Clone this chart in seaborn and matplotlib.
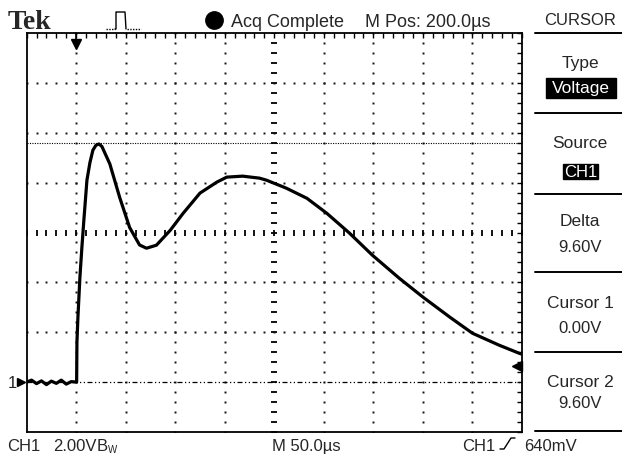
import numpy as np
import pandas as pd
import seaborn as sns
import matplotlib.pyplot as plt
from matplotlib.lines import Line2D
from matplotlib.patches import Rectangle

# trace (time in us, volts)
t_us = [0, 5, 10, 15, 20, 25, 30, 35, 40, 45, 50.5, 50.8, 51.8, 53.8, 55.8, 57.8,
        60.9, 63.9, 66.9, 70, 73, 76, 80, 84, 94, 104, 114, 121, 131, 145, 158,
        175, 192, 202, 218, 235, 242, 262, 283, 303, 326, 349, 376, 400, 427,
        450, 477, 497, 500]
volts = [0.0, 0.08, -0.06, 0.05, -0.1, 0.04, -0.05, 0.08, -0.08, 0.02, 0.0, 1.6,
         2.6, 4.2, 5.4, 6.5, 8.1, 8.8, 9.3, 9.5, 9.55, 9.45, 9.1, 8.75, 7.4, 6.2,
         5.5, 5.37, 5.49, 6.09, 6.77, 7.58, 8.02, 8.22, 8.26, 8.18, 8.1, 7.78,
         7.37, 6.77, 5.97, 5.09, 4.17, 3.41, 2.61, 1.96, 1.48, 1.16, 1.12]

cursor1_v = 0.0
cursor2_v = 9.60
trig_level_v = 0.64
trig_time_us = 50

header_texts = ["Acq Complete", "M Pos: 200.0\u00b5s"]
menu_labels = ["CURSOR", "Type", "Source", "Delta", "Cursor 1", "Cursor 2"]
menu_values = ["Voltage", "CH1", "9.60V", "0.00V", "9.60V"]
footer_texts = ["CH1", "2.00V", "M 50.0\u00b5s", "CH1", "640mV"]

W, H = 622, 454
sns.set_style("white")
plt.rcParams['font.family'] = ['Liberation Sans', 'DejaVu Sans']

fig = plt.figure(figsize=(W / 100, H / 100), dpi=100)
ax = fig.add_axes([26.6 / W, 1 - 432 / H, 495.4 / W, 399 / H])
ax.set_xlim(0, 500)
ax.set_ylim(-2, 14)


def fx(px):
    return px / W


def fy(py):
    return 1 - py / H


# graticule dots
dot = dict(ls='none', marker='s', ms=1.4, mew=0, color='#111111')
ys = np.arange(-2, 14.01, 0.4)
xs = np.arange(0, 500.1, 10)
for gx in range(50, 500, 50):
    if gx == 250:
        ax.plot(np.full_like(ys, gx), ys, ls='none', marker='_', ms=4, mew=1.3, color='k')
    else:
        ax.plot(np.full_like(ys, gx), ys, **dot)
for gy in range(2, 14, 2):
    if gy == 6:
        ax.plot(xs, np.full_like(xs, gy), ls='none', marker='|', ms=4, mew=1.3, color='k')
    else:
        ax.plot(xs, np.full_like(xs, gy), **dot)

# cursors
ax.axhline(cursor2_v, color='k', lw=0.8, ls=(0, (1, 1.2)))
ax.axhline(cursor1_v, color='k', lw=0.9, ls=(0, (4, 2, 1, 2, 1, 2)))

# waveform
df = pd.DataFrame({'t': t_us, 'v': volts})
sns.lineplot(data=df, x='t', y='v', ax=ax, color='black', linewidth=2.3, sort=False)

# markers: trigger position, trigger level, ground
ax.plot([trig_time_us], [13.55], marker='v', ms=7, color='k', clip_on=False)
ax.plot([trig_time_us, trig_time_us], [13.5, 14], color='k', lw=1.2, clip_on=False)
ax.plot([495], [trig_level_v], marker='<', ms=7, color='k', clip_on=False)
ax.plot([-6], [cursor1_v], marker='>', ms=6, color='k', clip_on=False)
fig.text(fx(8), fy(388), "1", fontsize=12)

ax.set_xticks(xs)
ax.set_yticks(ys)
ax.tick_params(direction='in', length=3.5, width=1, top=True, right=True,
               labelbottom=False, labelleft=False, color='k')
for s in ax.spines.values():
    s.set_color('k')
    s.set_linewidth(1.3)
ax.set_xlabel('')
ax.set_ylabel('')

# header
fig.text(fx(8), fy(29), "Tek", fontsize=20, fontweight='bold', family='Liberation Serif')
fig.add_artist(Line2D([fx(106), fx(115)], [fy(29), fy(29)], color='k', lw=1, ls=(0, (1, 1))))
fig.add_artist(Line2D([fx(115), fx(116), fx(116), fx(125), fx(126)],
                      [fy(29), fy(29), fy(12), fy(12), fy(29)], color='k', lw=1))
fig.add_artist(Line2D([fx(127), fx(141)], [fy(29), fy(29)], color='k', lw=1, ls=(0, (1, 1))))
fig.add_artist(Line2D([fx(214)], [fy(19.5)], marker='o', ms=12.5, color='k'))
fig.text(fx(231), fy(27), header_texts[0], fontsize=13)
fig.text(fx(365), fy(27), header_texts[1], fontsize=13)

# side menu
cx = 580
for ly in [33, 113, 194, 272, 352, 431]:
    fig.add_artist(Line2D([fx(535), fx(622)], [fy(ly), fy(ly)], color='k', lw=1.4))
fig.text(fx(cx), fy(25), menu_labels[0], fontsize=12, ha='center')
fig.text(fx(cx), fy(68), menu_labels[1], fontsize=12.5, ha='center')
fig.add_artist(Rectangle((fx(546), fy(98)), (616 - 546) / W, 20 / H, color='k'))
fig.text(fx(581), fy(93), menu_values[0], fontsize=12.5, ha='center', color='white')
fig.text(fx(cx), fy(148), menu_labels[2], fontsize=12.5, ha='center')
fig.add_artist(Rectangle((fx(563), fy(179)), 35 / W, 15 / H, color='k'))
fig.text(fx(580.5), fy(177), menu_values[1], fontsize=12, ha='center', color='white')
fig.text(fx(cx), fy(226), menu_labels[3], fontsize=12.5, ha='center')
fig.text(fx(cx), fy(252), menu_values[2], fontsize=12, ha='center')
fig.text(fx(cx), fy(308), menu_labels[4], fontsize=12.5, ha='center')
fig.text(fx(cx), fy(333), menu_values[3], fontsize=12, ha='center')
fig.text(fx(cx), fy(387), menu_labels[5], fontsize=12.5, ha='center')
fig.text(fx(cx), fy(408), menu_values[4], fontsize=12, ha='center')

# footer
fig.text(fx(7), fy(451), footer_texts[0], fontsize=12)
fig.text(fx(53), fy(451), footer_texts[1], fontsize=12)
fig.text(fx(97), fy(451), "B", fontsize=12)
fig.text(fx(108), fy(453), "W", fontsize=7)
fig.text(fx(272), fy(451), footer_texts[2], fontsize=12)
fig.text(fx(462), fy(451), footer_texts[3], fontsize=12)
fig.add_artist(Line2D([fx(500), fx(504), fx(511), fx(515)],
                      [fy(449), fy(449), fy(438), fy(438)], color='k', lw=1))
fig.text(fx(524), fy(451), footer_texts[4], fontsize=12)

fig.savefig('out.png', dpi=100, facecolor='white')
